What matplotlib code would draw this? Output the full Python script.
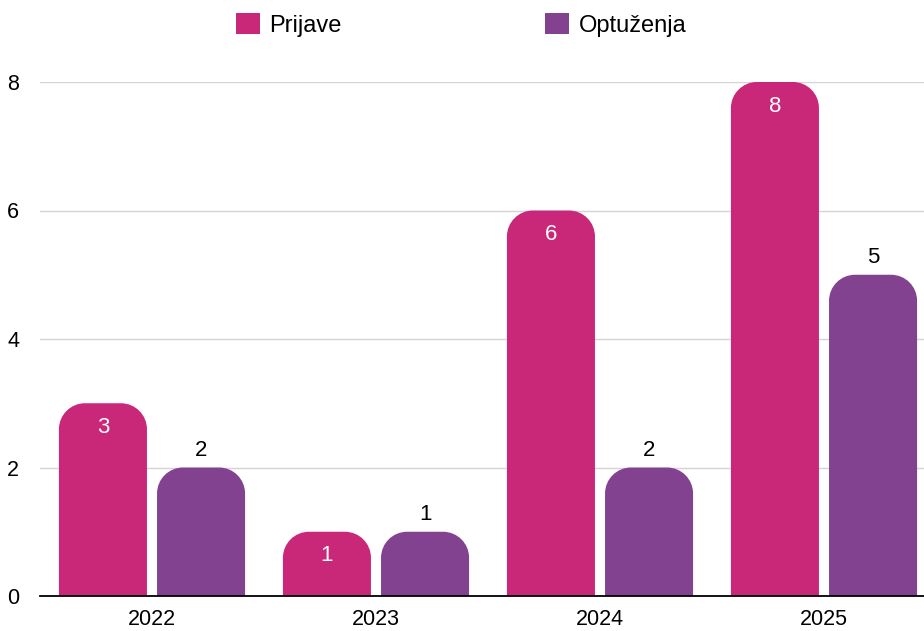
import numpy as np
import matplotlib
matplotlib.use("Agg")
import matplotlib.pyplot as plt
from matplotlib.path import Path
from matplotlib.patches import PathPatch, Patch

plt.rcParams['font.family'] = ['Liberation Sans', 'DejaVu Sans']

years = ['2022', '2023', '2024', '2025']
prijave = [3, 1, 6, 8]
optuzenja = [2, 1, 2, 5]
series_names = ['Prijave', 'Optuženja']
colors = ['#C92879', '#824290']

W, H = 924, 631
fig = plt.figure(figsize=(W / 100, H / 100), dpi=100)
ax = fig.add_axes([40 / W, 35 / H, 896 / W, 514 / H])

x = np.arange(len(years))
bw = 0.393
off = 0.219
radius_px = 26


def rounded_top(rect, r_px):
    # replace a bar rectangle with one that has rounded top corners
    x0, y0 = rect.get_x(), rect.get_y()
    w, h = rect.get_width(), rect.get_height()
    x1, top = x0 + w, y0 + h
    rx = r_px / 224.0
    ry = r_px / (514 / 8.0)
    ry = min(ry, h)
    k = 0.5523
    verts = [(x0, y0), (x0, top - ry),
             (x0, top - ry + k * ry), (x0 + rx - k * rx, top), (x0 + rx, top),
             (x1 - rx, top),
             (x1 - rx + k * rx, top), (x1, top - ry + k * ry), (x1, top - ry),
             (x1, y0), (x0, y0)]
    codes = [Path.MOVETO, Path.LINETO,
             Path.CURVE4, Path.CURVE4, Path.CURVE4,
             Path.LINETO,
             Path.CURVE4, Path.CURVE4, Path.CURVE4,
             Path.LINETO, Path.CLOSEPOLY]
    p = PathPatch(Path(verts, codes), facecolor=rect.get_facecolor(),
                  edgecolor='none', zorder=3)
    rect.remove()
    return p


for vals, dx, col, inside in [(prijave, -off, colors[0], True),
                              (optuzenja, off, colors[1], False)]:
    bars = ax.bar(x + dx, vals, bw, color=col)
    for rect, v in zip(list(bars), vals):
        ax.add_patch(rounded_top(rect, radius_px))
        cx = rect.get_x() + rect.get_width() / 2
        if inside:
            ax.annotate(str(v), (cx, v), xytext=(0, -24), textcoords='offset pixels',
                        ha='center', va='center', color='white', fontsize=16, zorder=4)
        else:
            ax.annotate(str(v), (cx, v), xytext=(0, 17), textcoords='offset pixels',
                        ha='center', va='center', color='black', fontsize=16, zorder=4)

ax.set_xlim(-0.5, 3.5)
ax.set_ylim(0, 8)
ax.set_yticks([0, 2, 4, 6, 8])
ax.set_xticks(x)
ax.set_xticklabels(years)
ax.tick_params(axis='both', length=0, labelsize=15.5)
ax.tick_params(axis='y', pad=15)
ax.tick_params(axis='x', pad=9.5)
ax.grid(axis='y', color='#d4d4d4', linewidth=1, zorder=0)
ax.set_axisbelow(True)
for s in ['top', 'right', 'left']:
    ax.spines[s].set_visible(False)
ax.spines['bottom'].set_color('black')
ax.spines['bottom'].set_linewidth(1.3)
ax.spines['bottom'].set_zorder(5)

# two legend entries, placed separately like the reference
for name, col, lx in zip(series_names, colors, [236, 545]):
    fig.legend([Patch(facecolor=col, edgecolor='none')], [name], loc='center left',
               bbox_to_anchor=(lx / W, 1 - 25 / H), frameon=False, fontsize=17,
               handlelength=1.0, handleheight=1.0, handletextpad=0.42,
               borderpad=0, borderaxespad=0)

fig.savefig('out.png', dpi=100)
